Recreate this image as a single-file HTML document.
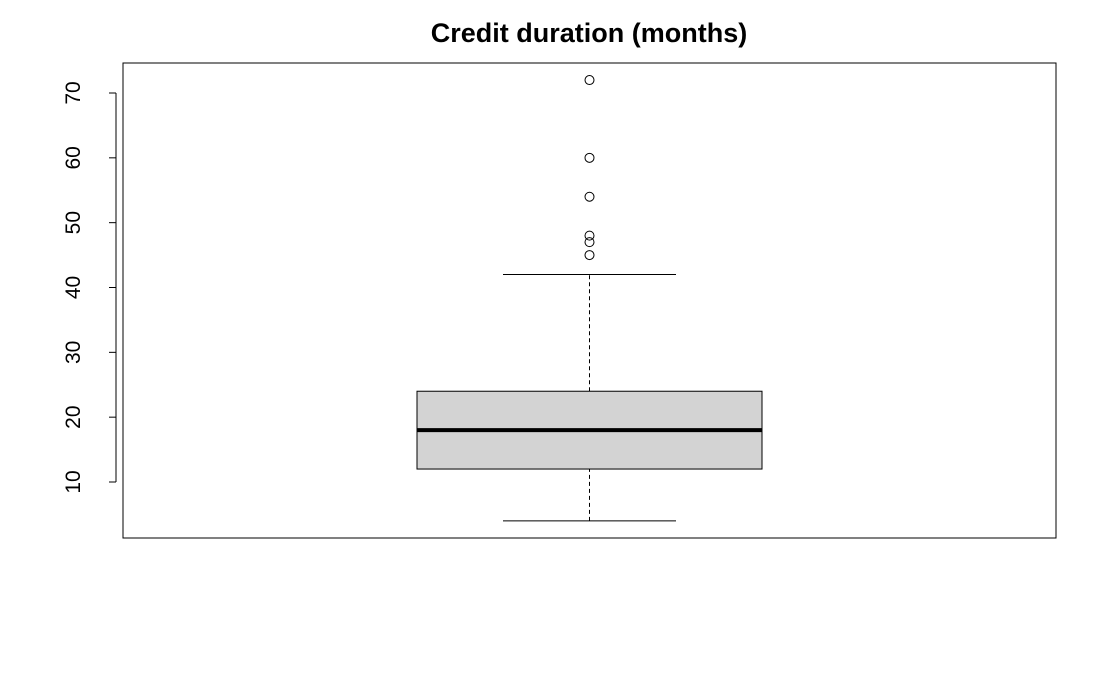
<!DOCTYPE html>
<html><head><meta charset="utf-8"><style>
html,body{margin:0;padding:0;background:#fff;width:1120px;height:692px;overflow:hidden}
svg{display:block;font-family:"Liberation Sans",Arial,sans-serif}
</style></head><body>
<svg id="chart" width="1120" height="692">
<text x="589" y="42" text-anchor="middle" font-size="27" font-weight="bold">Credit duration (months)</text>
<rect x="123" y="63" width="933" height="475" fill="none" stroke="#000" stroke-width="1"/>
<g id="yaxis"></g>
<g id="box"></g>
</svg>
<script>
const yTicks=[10,20,30,40,50,60,70];
const stats=[4,12,18,24,42]; // lower whisker, Q1, median, Q3, upper whisker
const outliers=[45,47,48,54,60,72];
const NS='http://www.w3.org/2000/svg';
function y(v){return 482-(v-10)*(389/60);}
const cx=589.5, bw=345, cw=173;
function mk(tag,attrs,parent){const e=document.createElementNS(NS,tag);for(const k in attrs)e.setAttribute(k,attrs[k]);parent.appendChild(e);return e;}
const ya=document.getElementById('yaxis');
let l=mk('line',{x1:116,x2:116,y1:y(yTicks[0]),y2:y(yTicks[yTicks.length-1]),stroke:'#000'},ya);


yTicks.forEach(t=>{
 const tk=mk('line',{x1:109,x2:116,y1:y(t),y2:y(t),stroke:'#000'},ya);
 
 
 const tx=mk('text',{x:0,y:0,'font-size':21,'text-anchor':'middle',transform:`translate(80,${y(t)}) rotate(-90)`},ya);
 tx.textContent=t;
 
 
});
const g=document.getElementById('box');
const [lo,q1,med,q3,hi]=stats;
let w1=mk('line',{x1:cx,x2:cx,y1:y(q3),y2:y(hi),stroke:'#000','stroke-dasharray':'4,3'},g);


let w2=mk('line',{x1:cx,x2:cx,y1:y(lo),y2:y(q1),stroke:'#000','stroke-dasharray':'4,3'},g);


let c1=mk('line',{x1:cx-cw/2,x2:cx+cw/2,y1:y(hi),y2:y(hi),stroke:'#000'},g);


let c2=mk('line',{x1:cx-cw/2,x2:cx+cw/2,y1:y(lo),y2:y(lo),stroke:'#000'},g);


let b=mk('rect',{x:cx-bw/2,y:y(q3),width:bw,height:y(q1)-y(q3),fill:'#d3d3d3',stroke:'#000'},g);


let m=mk('line',{x1:cx-bw/2,x2:cx+bw/2,y1:y(med),y2:y(med),stroke:'#000','stroke-width':4},g);


outliers.forEach(o=>{
 const c=mk('circle',{cx:cx,cy:y(o),r:4.5,fill:'none',stroke:'#000'},g);
 
 
});
</script>
</body></html>
